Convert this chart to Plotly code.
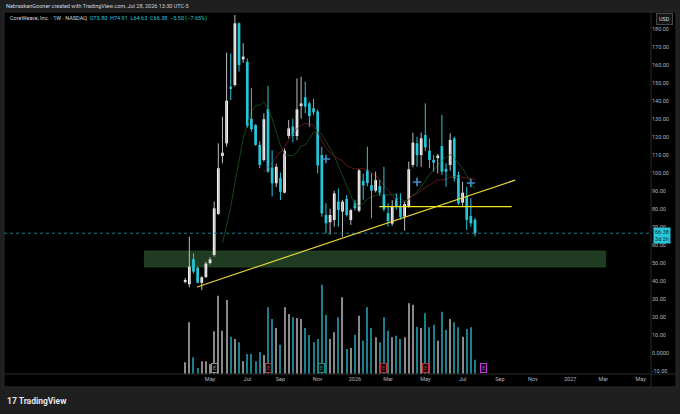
import pandas as pd
import plotly.graph_objects as go

W, H = 680, 414

# ---------------- data ----------------
dates = pd.date_range("2025-03-24", periods=71, freq="7D")
opens = [39.3, 38.0, 52.0, 47.2, 38.8, 42.0, 49.8, 54.3, 77.1, 109.3,
         116.3, 147.8, 148.7, 183.0, 163.0, 161.6, 130.0, 126.5, 115.4, 107.1,
         135.4, 102.9, 94.1, 97.0, 88.9, 120.4, 125.6, 120.4, 137.0, 141.9,
         138.5, 135.8, 134.0, 109.8, 76.5, 72.5, 73.7, 83.9, 78.4, 85.5,
         73.7, 83.0, 78.9, 95.5, 101.6, 93.1, 90.0, 92.6, 87.6, 77.5,
         71.7, 85.8, 81.7, 75.6, 81.5, 104.3, 116.3, 109.8, 120.9, 112.2,
         107.1, 108.4, 114.8, 102.1, 104.3, 119.1, 98.7, 83.4, 87.1, 76.0,
         73.80]
highs = [41.5, 64.4, 55.2, 47.8, 42.5, 50.5, 53.0, 83.9, 116.3, 131.1,
         166.7, 166.3, 187.6, 183.5, 172.0, 163.5, 147.0, 127.0, 117.5, 133.0,
         148.2, 112.5, 105.0, 100.0, 113.5, 129.3, 130.0, 152.4, 153.3, 150.6,
         139.5, 141.2, 135.0, 114.4, 83.0, 80.0, 90.0, 91.3, 85.0, 87.5,
         80.0, 85.0, 102.0, 99.5, 114.5, 99.6, 100.6, 96.0, 103.3, 83.0,
         84.8, 88.5, 88.5, 83.9, 106.2, 122.2, 120.0, 122.2, 138.5, 119.0,
         109.8, 110.5, 132.1, 105.2, 121.9, 120.0, 100.6, 95.0, 92.2, 85.8,
         74.91]
lows = [38.5, 36.3, 44.0, 38.5, 34.8, 41.5, 49.0, 53.4, 76.5, 105.2,
        114.5, 140.4, 147.8, 156.2, 161.0, 125.0, 122.8, 115.0, 102.5, 106.2,
        100.0, 86.8, 92.0, 84.8, 88.5, 119.0, 117.0, 118.0, 130.0, 133.0,
        125.5, 132.0, 99.6, 75.5, 66.3, 65.5, 70.0, 70.0, 64.5, 75.6,
        71.0, 79.0, 78.0, 85.0, 92.5, 74.7, 89.0, 87.0, 78.5, 70.1,
        70.5, 79.5, 74.0, 67.8, 80.5, 103.0, 103.3, 103.3, 112.0, 102.5,
        100.6, 99.6, 98.7, 92.2, 101.0, 95.0, 82.0, 81.2, 68.2, 70.0,
        64.63]
closes = [40.2, 47.8, 45.0, 38.9, 41.9, 49.5, 51.8, 80.2, 102.5, 111.1,
          140.0, 147.0, 183.0, 159.8, 164.5, 126.0, 124.2, 115.4, 104.3, 129.7,
          100.6, 94.1, 103.3, 89.4, 112.2, 124.6, 120.4, 135.2, 138.5, 136.7,
          131.5, 133.5, 104.0, 77.4, 71.9, 76.5, 88.5, 79.3, 83.9, 76.5,
          79.2, 80.3, 101.3, 93.0, 94.3, 90.0, 95.9, 88.9, 79.7, 73.2,
          81.3, 81.2, 75.4, 82.6, 101.9, 116.7, 109.8, 119.1, 114.1, 107.1,
          105.6, 109.5, 100.6, 100.6, 118.2, 96.9, 83.0, 88.9, 73.8, 71.88,
          66.38]
volumes = [35, 155, 50, 18, 38, 38, 30, 128, 235, 130,
           222, 112, 105, 95, 38, 60, 60, 38, 66, 57,
           200, 165, 138, 88, 200, 180, 170, 168, 165, 138,
           117, 95, 105, 268, 177, 105, 125, 170, 230, 75,
           78, 118, 175, 100, 200, 138, 110, 95, 170, 130,
           110, 115, 105, 110, 212, 208, 142, 138, 182, 140,
           148, 100, 187, 132, 165, 155, 140, 112, 135, 140,
           43]

month_ticks = ["2025-05-05", "2025-07-07", "2025-09-01", "2025-11-03", "2026-01-05",
               "2026-03-02", "2026-05-04", "2026-07-06", "2026-09-07", "2026-11-02",
               "2027-01-04", "2027-03-01", "2027-05-03"]
month_labels = ["May", "Jul", "Sep", "Nov", "2026", "Mar", "May", "Jul", "Sep", "Nov",
                "2027", "Mar", "May"]
price_ticks = list(range(-10, 190, 10))
price_labels = ["0.0000" if v == 0 else f"{v:.2f}" for v in price_ticks]

trend_dates = ["2025-04-13", "2026-10-03"]
trend_prices = [36.5, 95.9]
level_dates = ["2026-02-15", "2026-09-27"]
level_price = 81.1
zone_dates = ["2025-01-14", "2027-03-05"]
zone_prices = [47.6, 56.5]
last_close = 66.38
signal_dates = ["2025-11-17", "2026-04-20", "2026-07-20"]
signal_prices = [107.6, 94.8, 94.3]
earn_dates = ["2025-05-12", "2025-08-11", "2025-11-10", "2026-02-23", "2026-05-04", "2026-08-10"]
earn_colors = ["#8d8d8d", "#c0303a", "#1f8f7c", "#c0303a", "#c0303a", "#c43ad6"]

# ---------------- styling ----------------
UP = "#ffffff"
UP_WICK = "#bdbdbd"
DOWN = "#26c6da"
VOL_UP = "#8a8a8a"
VOL_DOWN = "#1b7f8c"
TXT = "#b2b5be"
FONT = "Roboto"

def px_x(x):
    return x / W

def px_y(y):
    return 1 - y / H

df = pd.DataFrame({"d": dates, "o": opens, "h": highs, "l": lows, "c": closes, "v": volumes})
df["up"] = df["c"] >= df["o"]
df["ma10"] = df["c"].rolling(10).mean()
df["ma20"] = df["c"].rolling(20).mean()

fig = go.Figure()

# volume (own hidden scale)
fig.add_trace(go.Bar(x=df["d"], y=df["v"], yaxis="y2",
                     marker=dict(color=[VOL_UP if u else VOL_DOWN for u in df["up"]], line_width=0),
                     width=1.8 * 86400000, hoverinfo="skip", showlegend=False))

# moving averages
fig.add_trace(go.Scatter(x=df["d"], y=df["ma10"], mode="lines",
                         line=dict(color="#15461a", width=1), showlegend=False, hoverinfo="skip"))
fig.add_trace(go.Scatter(x=df["d"], y=df["ma20"], mode="lines",
                         line=dict(color="#651818", width=1), showlegend=False, hoverinfo="skip"))

# wicks
for is_up, col in [(True, UP_WICK), (False, DOWN)]:
    sub = df[df["up"] == is_up]
    xs, ys = [], []
    for _, r in sub.iterrows():
        xs += [r["d"], r["d"], None]
        ys += [r["l"], r["h"], None]
    fig.add_trace(go.Scatter(x=xs, y=ys, mode="lines", line=dict(color=col, width=1),
                             showlegend=False, hoverinfo="skip"))

# bodies
for is_up, col in [(True, UP), (False, DOWN)]:
    sub = df[df["up"] == is_up]
    base = sub[["o", "c"]].min(axis=1)
    hgt = (sub["c"] - sub["o"]).abs()
    fig.add_trace(go.Bar(x=sub["d"], y=hgt, base=base, marker=dict(color=col, line_width=0),
                         width=4.6 * 86400000, showlegend=False, hoverinfo="skip"))

# signal crosses
fig.add_trace(go.Scatter(x=signal_dates, y=signal_prices, mode="markers",
                         marker=dict(symbol="cross-thin", size=6, line=dict(color="#3f8fc9", width=1.6)),
                         showlegend=False, hoverinfo="skip"))

base_day = pd.Timestamp("2025-03-24")
px_per_day = 4.14 / 7
x_range = [base_day - pd.Timedelta(days=(185.2 - 4) / px_per_day),
           base_day + pd.Timedelta(days=(651 - 185.2) / px_per_day)]

shapes = [
    dict(type="rect", xref="paper", yref="paper", x0=px_x(4), x1=px_x(676), y0=px_y(387), y1=px_y(12),
         fillcolor="#000000", line=dict(color="#2a2a2a", width=1), layer="below"),
    dict(type="line", xref="paper", yref="paper", x0=px_x(651), x1=px_x(651), y0=px_y(387), y1=px_y(12),
         line=dict(color="#2a2a2a", width=1)),
    dict(type="line", xref="paper", yref="paper", x0=px_x(4), x1=px_x(676), y0=px_y(374), y1=px_y(374),
         line=dict(color="#2a2a2a", width=1)),
    dict(type="rect", xref="x", yref="y", x0=zone_dates[0], x1=zone_dates[1],
         y0=zone_prices[0], y1=zone_prices[1], fillcolor="#1f3b21",
         line=dict(color="#2c5530", width=0.6), layer="below"),
    dict(type="line", xref="paper", yref="y", x0=px_x(4), x1=px_x(651), y0=last_close, y1=last_close,
         line=dict(color="#1e7f8c", width=1, dash="dot")),
    dict(type="line", xref="x", yref="y", x0=trend_dates[0], x1=trend_dates[1],
         y0=trend_prices[0], y1=trend_prices[1], line=dict(color="#e2d33a", width=1.2)),
    dict(type="line", xref="x", yref="y", x0=level_dates[0], x1=level_dates[1],
         y0=level_price, y1=level_price, line=dict(color="#f4e41c", width=1.2)),
]

annotations = [
    dict(xref="paper", yref="paper", x=px_x(4), y=px_y(6), xanchor="left", yanchor="middle",
         text="NebraskanGooner created with TradingView.com, Jul 28, 2026 13:30 UTC-5",
         showarrow=False, font=dict(family=FONT, size=5.5, color="#d1d4dc")),
    dict(xref="paper", yref="paper", x=px_x(8), y=px_y(18.5), xanchor="left", yanchor="middle",
         text="CoreWeave, Inc. · 1W · NASDAQ  <span style='color:#26c6da'>O73.80  H74.91  L64.63  C66.38  −5.50 (−7.65%)</span>",
         showarrow=False, font=dict(family=FONT, size=5.5, color="#d1d4dc")),
    dict(xref="paper", yref="paper", x=px_x(664), y=px_y(19.5), xanchor="center", yanchor="middle",
         text="USD", showarrow=False, font=dict(family=FONT, size=5.5, color="#d1d4dc"),
         bgcolor="#151515", bordercolor="#45474f", borderwidth=1, borderpad=2),
    dict(xref="paper", yref="paper", x=px_x(661.5), y=px_y(235.5), xanchor="center", yanchor="middle",
         text="66.38<br>3d 2h", showarrow=False, font=dict(family=FONT, size=5.5, color="#0c2a30"),
         bgcolor="#26c6da", borderpad=1),
    dict(xref="paper", yref="paper", x=px_x(5), y=px_y(401), xanchor="left", yanchor="middle",
         text="<b>17 TradingView</b>", showarrow=False, font=dict(family=FONT, size=8.5, color="#e6e6e6")),
]
for d, c in zip(earn_dates, earn_colors):
    annotations.append(dict(xref="x", yref="paper", x=d, y=px_y(367.5), xanchor="center", yanchor="middle",
                            text="E", showarrow=False, font=dict(family=FONT, size=5, color=c),
                            bgcolor="#0d0d0d", bordercolor=c, borderwidth=1, borderpad=1))

fig.update_layout(
    width=W, height=H, margin=dict(l=0, r=0, t=0, b=0),
    paper_bgcolor="#1f1f1f", plot_bgcolor="#000000",
    barmode="overlay", showlegend=False, hovermode=False,
    font=dict(family=FONT, size=6, color=TXT),
    xaxis=dict(type="date", domain=[px_x(4), px_x(651)], range=x_range, anchor="y",
               tickvals=month_ticks, ticktext=month_labels, showgrid=False, zeroline=False,
               showline=False, ticks="", tickfont=dict(family=FONT, size=5.5, color=TXT)),
    yaxis=dict(domain=[px_y(374), px_y(12)], range=[(352.7 - 374) / 1.8, (352.7 - 12) / 1.8],
               side="right", anchor="x", tickvals=price_ticks, ticktext=price_labels,
               showgrid=False, zeroline=False, showline=False, ticks="",
               tickfont=dict(family=FONT, size=5.5, color=TXT)),
    yaxis2=dict(overlaying="y", range=[0, 1086], visible=False),
    shapes=shapes, annotations=annotations,
)

fig.write_html("out.html", config={"displayModeBar": False},
               post_script="document.body.style.margin='0';document.body.style.background='#1f1f1f';")
